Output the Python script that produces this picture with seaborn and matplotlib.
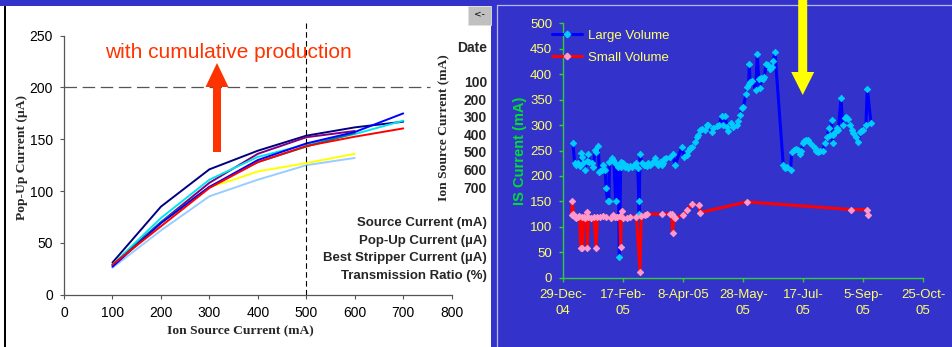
import numpy as np
import pandas as pd
import seaborn as sns
import matplotlib.pyplot as plt
from matplotlib.patches import Rectangle, FancyArrow
from matplotlib.lines import Line2D

#-----------------------------------------------------------------------------------------
#----------------------------------- DATOS -----------------------------------------------
#-----------------------------------------------------------------------------------------

# panel izquierdo: Pop-Up current vs ion source current
ion_current = [100, 200, 300, 400, 500, 600, 700]
ion_current_yellow = [100, 200, 300, 350, 400, 500, 600]
popup_navy = [31, 85, 121, 139, 153.5, 161.5, 167]
popup_purple = [29, 70, 108, 136, 152, 158]
popup_cyan = [29, 74, 111, 133, 145, 155, 168]
popup_teal = [28, 70, 104, 128, 143, 156]
popup_blue = [27, 69, 104, 130, 146, 157, 175]
popup_red = [29, 66, 103, 128, 143.5, 152.5, 160.5]
popup_yellow = [29, 69, 104, 111, 119, 127, 136]
popup_lightblue = [26, 62, 95, 111, 125, 132]

curve_colors = {
    'lightblue': '#99CCFF', 'yellow': '#FFFF00', 'navy': '#000080', 'purple': '#800080',
    'cyan': '#00E5EE', 'teal': '#008080', 'blue': '#0000FF', 'red': '#FF0000',
}

# panel derecho: IS current por fecha (dias desde 29-Dec-04)
large_days = [8, 9.5, 11, 12.5, 14, 14.5, 15.3, 16.7, 18, 19.5, 20.9, 21.7, 23.6, 25, 26.4,
              27.5, 29.2, 30, 31, 32, 33.4, 35, 35.6, 37, 38, 38.4, 40.3, 41.5, 42.3, 43.6,
              45, 45.9, 46.7, 47.8, 48.5, 49.5, 51.4, 53, 54.2, 56, 57, 59, 61, 62, 63,
              63.2, 63.9, 65.3, 67, 68, 70, 70.9, 72, 73.6, 75, 76.4, 77.8, 79, 80.6, 82,
              83.4, 84, 86, 88.9, 91.2, 93.1, 98.7, 100.6, 102.8, 104, 105.6, 107, 109.8,
              111.2, 112.5, 113.9, 116, 118.1, 119.5, 121, 123.7, 125, 127.8, 130, 132,
              133.4, 134.8, 136.2, 137.5, 139.5, 141.7, 144.5, 145.9, 147.3, 148.7, 150,
              152.3, 153.4, 154.5, 155, 155.6, 157.5, 160.3, 161.7, 162.8, 163.9, 165,
              166.7, 167.5, 169, 171, 172, 173.6, 175, 176.4, 183.3, 184.7, 186.5, 189.4,
              190.3, 192.2, 194, 195.8, 197.2, 198.5, 200, 201, 202.2, 204.1, 206, 207.8,
              209.7, 211, 212.5, 214, 216.1, 218, 220, 221.6, 222.5, 223.6, 224.4, 225,
              226.4, 228, 229.2, 231.4, 232.8, 234.7, 236, 237.5, 238.9, 240.5, 241.6,
              243.9, 245.8, 247.2, 248.5, 250, 252.2, 253.3, 256.4]
large_vals = [264, 225, 222, 225, 220, 246, 238, 225, 212, 230, 244, 228, 225, 218, 251,
              248, 259, 208, 210, 212, 222, 212, 176, 150, 150, 228, 235, 232, 228, 150,
              222, 218, 40, 218, 228, 225, 218, 220, 215, 220, 218, 222, 225, 215, 150,
              125, 244, 225, 222, 222, 220, 225, 222, 225, 228, 235, 225, 222, 228, 222,
              225, 233, 235, 238, 243, 222, 256, 238, 241, 250, 254, 256, 267,
              277, 280, 290, 292, 290, 300, 300, 287, 294, 298, 300, 318,
              300, 318, 297, 289, 305, 296, 300, 307, 320, 333, 335,
              362, 375, 380, 420, 385, 387, 369, 439, 390, 372, 392,
              390, 395, 420, 418, 411, 415, 425, 443, 221, 215, 217, 212,
              248, 251, 252, 251, 244, 250, 264, 268, 271, 271, 264, 258,
              254, 250, 248, 250, 249, 264, 277, 294, 280, 310, 264, 281,
              287, 294, 290, 354, 300, 313, 315, 311, 300, 290, 284,
              277, 267, 287, 288, 290, 300, 371, 305]

small_days = [7, 7.5, 8.4, 9.75, 11, 12.5, 13.5, 14.5, 15.2, 16, 17, 18.5, 19.5, 20, 21,
              23, 25.5, 27.25, 28.5, 31, 33.4, 36, 39.5, 41.7, 43, 45, 47, 47.8, 48.6, 50,
              53, 55.5, 61, 63.9, 65, 68, 70, 82, 89, 90.3, 91.1, 92.2, 93, 100, 103.3,
              107, 113.3, 113.9, 152.8, 239.7, 252.8, 254.2]
small_vals = [123, 150, 125, 120, 118, 120, 122, 58, 120, 58, 120, 118, 130, 59, 120,
              118, 120, 59, 120, 120, 122, 120, 118, 123, 120, 120, 122, 61, 132, 118,
              118, 120, 120, 12, 122, 124, 125, 125, 126, 126, 88, 120, 117, 124, 134,
              144, 143, 128, 149, 134, 134, 124]

date_start = pd.Timestamp('2004-12-29')
date_tick_labels = ['29-Dec-\n04', '17-Feb-\n05', '8-Apr-05', '28-May-\n05',
                    '17-Jul-\n05', '5-Sep-\n05', '25-Oct-\n05']
date_rows = ['100', '200', '300', '400', '500', '600', '700']
row_labels = ['Source Current (mA)', 'Pop-Up Current (\u00b5A)',
              'Best Stripper Current (\u00b5A)', 'Transmission Ratio (%)']

#-----------------------------------------------------------------------------------------
#----------------------------------- FIGURA ----------------------------------------------
#-----------------------------------------------------------------------------------------

sns.set_style('white')
plt.rcParams['font.family'] = ['Liberation Sans', 'DejaVu Sans']

BLUE_BG = '#3333CC'
YELLOW_TXT = '#FFFF66'
GREEN_AX = '#33CC33'

fig = plt.figure(figsize=(9.52, 3.47), dpi=100)

# fondo en coordenadas de pixel
bg = fig.add_axes([0, 0, 1, 1], zorder=-5)
bg.set_xlim(0, 952)
bg.set_ylim(347, 0)
bg.axis('off')
bg.add_patch(Rectangle((0, 0), 952, 347, fc='white', ec='none'))
bg.add_patch(Rectangle((0, 0), 952, 6, fc=BLUE_BG, ec='none'))
bg.add_patch(Rectangle((491, 0), 461, 347, fc=BLUE_BG, ec='none'))
bg.add_patch(Rectangle((4, 6), 2, 341, fc='black', ec='none'))
bg.plot([496.5, 496.5], [4.5, 347], color='#B8B8F0', lw=0.9)
bg.plot([496.5, 952], [4.5, 4.5], color='#B8B8F0', lw=0.9)
bg.add_patch(Rectangle((467.5, 5.5), 23.5, 19.5, fc='#C0C0C0', ec='#E0E0E0', lw=0.6))
bg.text(479.5, 14, '<-', ha='center', va='center', fontsize=6.5, color='black',
        family='DejaVu Sans')

#----------------------------------- PANEL IZQUIERDO -------------------------------------

ax1 = fig.add_axes([64 / 952, 52.3 / 347, 387.7 / 952, 259 / 347])
ax1.set_facecolor('none')

curves = [
    ('lightblue', ion_current[:6], popup_lightblue),
    ('yellow', ion_current_yellow, popup_yellow),
    ('navy', ion_current, popup_navy),
    ('purple', ion_current[:6], popup_purple),
    ('cyan', ion_current, popup_cyan),
    ('teal', ion_current[:6], popup_teal),
    ('blue', ion_current, popup_blue),
    ('red', ion_current, popup_red),
]
df_left = pd.concat([
    pd.DataFrame({'current': x, 'popup': y, 'run': name}) for name, x, y in curves
], ignore_index=True)

sns.lineplot(data=df_left, x='current', y='popup', hue='run',
             hue_order=[c[0] for c in curves], palette=curve_colors,
             estimator=None, sort=False, legend=False, lw=1.4, ax=ax1)

ax1.hlines(200, 0, 755, colors='#555555', lw=0.9, linestyles=(0, (10, 4.5)), clip_on=False)
ax1.vlines(500, 0, 262, colors='black', lw=0.8, linestyles=(0, (5, 3)), clip_on=False)

ax1.set_xlim(0, 800)
ax1.set_ylim(0, 250)
ax1.set_xticks(range(0, 801, 100))
ax1.set_yticks(range(0, 251, 50))
for side in ['top', 'right']:
    ax1.spines[side].set_visible(False)
for side in ['left', 'bottom']:
    ax1.spines[side].set_color('#555555')
    ax1.spines[side].set_linewidth(0.9)
ax1.tick_params(axis='both', direction='out', length=3, width=0.8, color='#555555',
                labelsize=10, labelcolor='black', left=True, bottom=True)
ax1.tick_params(axis='x', pad=5)
ax1.tick_params(axis='y', pad=5)

ax1.set_xlabel('Ion Source Current (mA)', family='Liberation Serif', weight='bold', fontsize=9.7)
ax1.xaxis.set_label_coords(0.454, -0.12)
ax1.set_ylabel('Pop-Up Current (\u00b5A)', family='Liberation Serif', weight='bold', fontsize=9.7)
ax1.yaxis.set_label_coords(-0.092, 0.53)

#----------------------------------- PANEL DERECHO ---------------------------------------

ax2 = fig.add_axes([563.3 / 952, 69.3 / 347, 360 / 952, 254.4 / 347])
ax2.set_facecolor('none')

df_large = pd.DataFrame({'date': date_start + pd.to_timedelta(large_days, unit='D'),
                         'current': large_vals})
df_small = pd.DataFrame({'date': date_start + pd.to_timedelta(small_days, unit='D'),
                         'current': small_vals})

sns.lineplot(data=df_large, x='date', y='current', estimator=None, sort=False,
             color='#0000FF', lw=2.2, marker='D', markersize=3.3, markerfacecolor='#00CCFF',
             markeredgecolor='#00CCFF', markeredgewidth=0.6, ax=ax2)
sns.lineplot(data=df_small, x='date', y='current', estimator=None, sort=False,
             color='#FF0000', lw=2.2, marker='D', markersize=3.3, markerfacecolor='#FF99CC',
             markeredgecolor='#FF99CC', markeredgewidth=0.6, ax=ax2)

ticks = [date_start + pd.Timedelta(days=50 * k) for k in range(len(date_tick_labels))]
ax2.set_xlim(ticks[0], ticks[-1])
ax2.set_ylim(0, 500)
ax2.set_xticks(ticks)
ax2.set_xticklabels(date_tick_labels, linespacing=1.45)
ax2.set_yticks(range(0, 501, 50))
for side in ['top', 'right']:
    ax2.spines[side].set_visible(False)
for side in ['left', 'bottom']:
    ax2.spines[side].set_color(GREEN_AX)
    ax2.spines[side].set_linewidth(1)
ax2.tick_params(axis='both', direction='out', length=3, width=1, color=GREEN_AX,
                labelsize=9.5, labelcolor=YELLOW_TXT, left=True, bottom=True)
ax2.tick_params(axis='x', pad=5)
ax2.tick_params(axis='y', pad=5)
ax2.set_xlabel('')
ax2.set_ylabel('IS Current (mA)', color='#00DD33', fontsize=10.5, weight='bold')
ax2.yaxis.set_label_coords(-0.1, 0.5)

handles = [
    Line2D([], [], color='#0000FF', lw=2.2, marker='D', markersize=3.3,
           markerfacecolor='#00CCFF', markeredgecolor='#00CCFF'),
    Line2D([], [], color='#FF0000', lw=2.2, marker='D', markersize=3.3,
           markerfacecolor='#FF99CC', markeredgecolor='#FF99CC'),
]
ax2.legend(handles, ['Large Volume', 'Small Volume'], loc='upper left',
           bbox_to_anchor=(-0.031, 0.975), frameon=False, borderpad=0, borderaxespad=0,
           handlelength=2.3, handletextpad=0.4, labelspacing=0.75, fontsize=9.5,
           labelcolor=YELLOW_TXT)

#----------------------------------- ANOTACIONES -----------------------------------------

fg = fig.add_axes([0, 0, 1, 1], zorder=5)
fg.set_xlim(0, 952)
fg.set_ylim(347, 0)
fg.axis('off')

fg.add_patch(FancyArrow(217, 152, 0, -89, width=8, head_width=23, head_length=24,
                        length_includes_head=True, fc='#FF3300', ec='none'))
fg.text(228, 52, 'with cumulative production', ha='center', va='center',
        fontsize=15, color='#FF3300')
fg.add_patch(FancyArrow(802.7, 0, 0, 95, width=9, head_width=23, head_length=23,
                        length_includes_head=True, fc='#FFFF00', ec='none'))

fg.text(487, 48, 'Date', ha='right', va='center', weight='bold', fontsize=10)
fg.text(444, 128, 'Ion Source Current (mA)', rotation=90, ha='center', va='center',
        family='Liberation Serif', weight='bold', fontsize=9.7)
for i, lab in enumerate(date_rows):
    fg.text(487, 83 + i * 17.6, lab, ha='right', va='center', weight='bold', fontsize=10)
for i, lab in enumerate(row_labels):
    fg.text(487, 223 + i * 17.7, lab, ha='right', va='center', weight='bold', fontsize=9.5)

fig.savefig('out.png', dpi=100)
